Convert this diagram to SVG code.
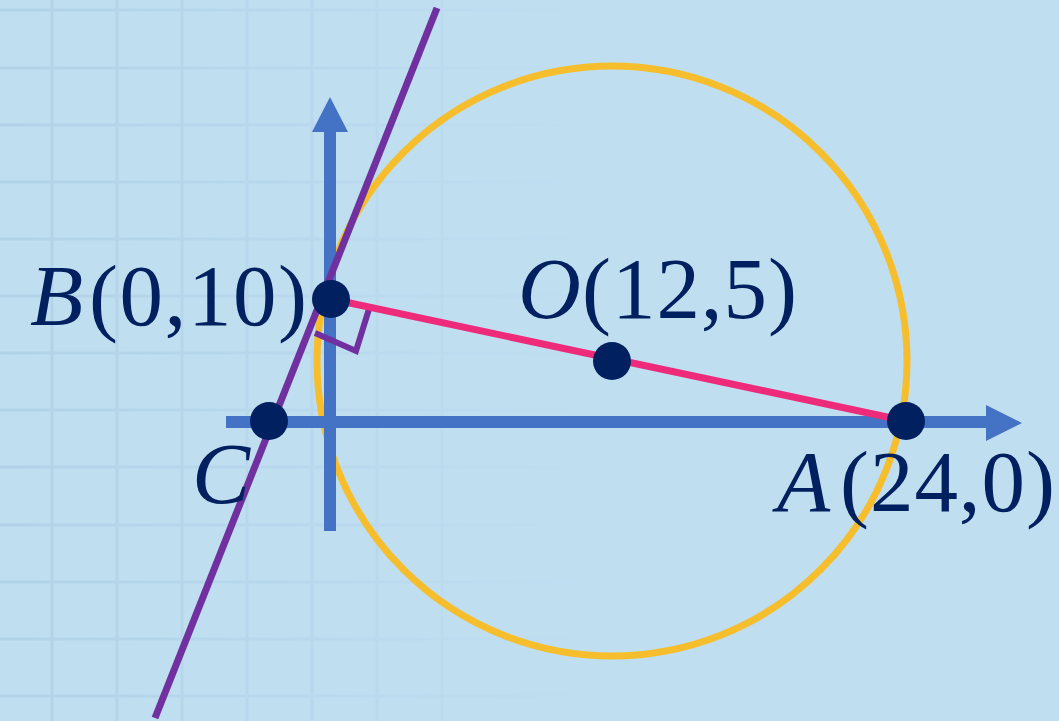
<svg xmlns="http://www.w3.org/2000/svg" width="1059" height="721" viewBox="0 0 1059 721">
  <defs>
    <linearGradient id="gridFade" gradientUnits="userSpaceOnUse" x1="0" y1="0" x2="620" y2="0">
      <stop offset="0" stop-color="#B1D2E7"/>
      <stop offset="0.6" stop-color="#BAD9EE"/>
      <stop offset="1" stop-color="#BFDFF1"/>
    </linearGradient>
  </defs>
  <style>
    .grid line { stroke: url(#gridFade); stroke-width: 3; }
    .axis { stroke: #4472C4; stroke-width: 12; fill: none; }
    .head { fill: #4472C4; }
    .pt { fill: #002060; }
    .lbl { font-family: "Liberation Serif", "DejaVu Serif", serif; font-size: 87px; fill: #002060; }
    .it { font-style: italic; }
  </style>
  <rect width="1059" height="721" fill="#BFDFF1"/>
  <g class="grid">
    <line x1="52" y1="0" x2="52" y2="721"/>
    <line x1="117" y1="0" x2="117" y2="721"/>
    <line x1="182" y1="0" x2="182" y2="721"/>
    <line x1="247" y1="0" x2="247" y2="721"/>
    <line x1="312" y1="0" x2="312" y2="721"/>
    <line x1="377" y1="0" x2="377" y2="721"/>
    <line x1="442" y1="0" x2="442" y2="721"/>
    <line x1="0" y1="10" x2="620" y2="10"/>
    <line x1="0" y1="68" x2="620" y2="68"/>
    <line x1="0" y1="125" x2="620" y2="125"/>
    <line x1="0" y1="182" x2="620" y2="182"/>
    <line x1="0" y1="239" x2="620" y2="239"/>
    <line x1="0" y1="296" x2="620" y2="296"/>
    <line x1="0" y1="353" x2="620" y2="353"/>
    <line x1="0" y1="410" x2="620" y2="410"/>
    <line x1="0" y1="467" x2="620" y2="467"/>
    <line x1="0" y1="525" x2="620" y2="525"/>
    <line x1="0" y1="582" x2="620" y2="582"/>
    <line x1="0" y1="639" x2="620" y2="639"/>
    <line x1="0" y1="696" x2="620" y2="696"/>
  </g>
  <g id="circle">
    <circle cx="612" cy="361" r="295" fill="none" stroke="#F6BE2C" stroke-width="7"/>
  </g>
  <g id="connectors">
    <line class="axis" x1="330" y1="531" x2="330" y2="128"/>
    <polygon class="head" points="330,97 312,132 348,132"/>
    <line class="axis" x1="226" y1="422" x2="990" y2="422"/>
    <polygon class="head" points="1022,423 986,405 986,441"/>
    <line x1="437" y1="8" x2="155" y2="718" stroke="#7030A0" stroke-width="7"/>
    <polyline points="315,333 356,351 369,309" fill="none" stroke="#7030A0" stroke-width="6"/>
    <line x1="331" y1="299" x2="906" y2="421" stroke="#EE2A7B" stroke-width="7"/>
  </g>
  <g id="B">
    <circle class="pt" cx="331" cy="299" r="19"/>
    <text class="lbl" y="325"><tspan class="it" x="30">B</tspan><tspan x="89" textLength="218" lengthAdjust="spacing">(0,10)</tspan></text>
  </g>
  <g id="O">
    <circle class="pt" cx="612" cy="361" r="19"/>
    <text class="lbl" y="318"><tspan class="it" x="518">O</tspan><tspan x="582" textLength="215" lengthAdjust="spacing">(12,5)</tspan></text>
  </g>
  <g id="A">
    <circle class="pt" cx="906" cy="421" r="19"/>
    <text class="lbl" y="511"><tspan class="it" x="777">A</tspan><tspan x="840" textLength="215" lengthAdjust="spacing">(24,0)</tspan></text>
  </g>
  <g id="C">
    <circle class="pt" cx="269" cy="421" r="19"/>
    <text class="lbl it" x="192" y="503">C</text>
  </g>
</svg>
